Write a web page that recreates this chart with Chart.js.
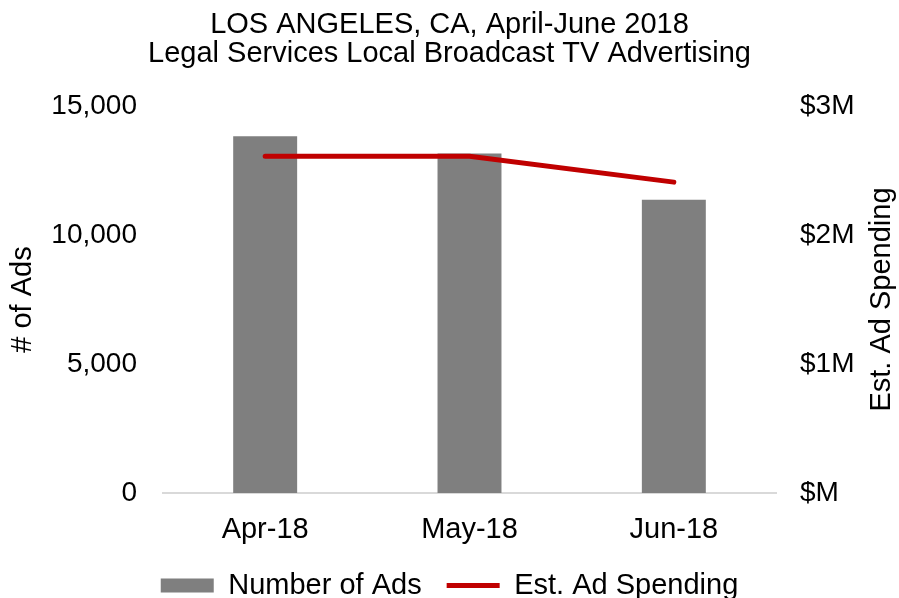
<!DOCTYPE html>
<html>
<head>
  <title>Legal Services Local Broadcast TV Advertising</title>
  <script src="https://cdn.jsdelivr.net/npm/chart.js"></script>
  <style>
    body { margin: 0; background: #fff; }
    #wrap { width: 899px; height: 598px; }
  </style>
</head>
<body>
  <div id="wrap"><canvas id="adChart" width="899" height="598"></canvas></div>

  <script>
    const months = ['Apr-18', 'May-18', 'Jun-18'];
    const adCounts = [13830, 13160, 11370];
    const adSpending = [2610000, 2610000, 2410000];
    const titleLines = ['LOS ANGELES, CA, April-June 2018', 'Legal Services Local Broadcast TV Advertising'];
    const spendAxisTitle = 'Est. Ad Spending';

    const FONT = 'Arial, "Liberation Sans", sans-serif';
    Chart.defaults.font.family = FONT;
    Chart.defaults.color = '#000';

    // right axis title reads bottom-to-top in the original, Chart.js rotates it the other way
    const rightTitle = {
      id: 'rightTitle',
      afterDraw(chart) {
        const s = chart.scales.ySpend;
        const a = chart.chartArea;
        const ctx = chart.ctx;
        ctx.save();
        ctx.translate(s.right - 17, (a.top + a.bottom) / 2);
        ctx.rotate(-Math.PI / 2);
        ctx.font = '29px ' + FONT;
        ctx.fillStyle = '#000';
        ctx.textAlign = 'center';
        ctx.textBaseline = 'middle';
        ctx.fillText(spendAxisTitle, 0, 0);
        ctx.restore();
      }
    };

    new Chart(document.getElementById('adChart'), {
      data: {
        labels: months,
        datasets: [{
          type: 'line',
          label: 'Est. Ad Spending',
          data: adSpending,
          yAxisID: 'ySpend',
          borderColor: '#c00000',
          backgroundColor: '#c00000',
          borderWidth: 5,
          borderCapStyle: 'round',
          pointRadius: 0,
          pointStyle: 'line',
          tension: 0,
          order: 0
        }, {
          type: 'bar',
          label: 'Number of Ads',
          data: adCounts,
          yAxisID: 'yAds',
          backgroundColor: '#7f7f7f',
          borderWidth: 0,
          pointStyle: 'rect',
          categoryPercentage: 1,
          barPercentage: 0.313,
          order: 1
        }]
      },
      options: {
        responsive: false,
        animation: false,
        layout: { padding: { top: 0, left: 0, right: 0, bottom: -12 } },
        plugins: {
          title: {
            display: true,
            text: titleLines,
            font: { size: 29, weight: 'normal', lineHeight: 1.0 },
            padding: { top: 10, bottom: 38 }
          },
          legend: {
            position: 'bottom',
            reverse: true,
            labels: {
              usePointStyle: true,
              pointStyleWidth: 53,
              boxHeight: 14,
              padding: 25,
              font: { size: 29 }
            }
          },
          tooltip: { enabled: false }
        },
        scales: {
          x: {
            grid: { display: false },
            border: { color: '#d9d9d9', width: 2 },
            ticks: { font: { size: 29 }, padding: 12 },
            afterFit: s => { s.height = 53; }
          },
          yAds: {
            position: 'left',
            min: 0,
            max: 15000,
            grid: { display: false },
            border: { display: false },
            ticks: {
              stepSize: 5000,
              padding: 18,
              font: { size: 28 },
              callback: v => v.toLocaleString('en-US')
            },
            title: { display: true, text: '# of Ads', font: { size: 29 }, padding: { top: 6, bottom: 0 } },
            afterFit: s => { s.width = 163; }
          },
          ySpend: {
            position: 'right',
            min: 0,
            max: 3000000,
            grid: { display: false },
            border: { display: false },
            ticks: {
              stepSize: 1000000,
              padding: 16,
              font: { size: 28 },
              callback: v => v === 0 ? '$M' : '$' + (v / 1000000) + 'M'
            },
            afterFit: s => { s.width = 123; }
          }
        }
      },
      plugins: [rightTitle]
    });
  </script>
</body>
</html>
